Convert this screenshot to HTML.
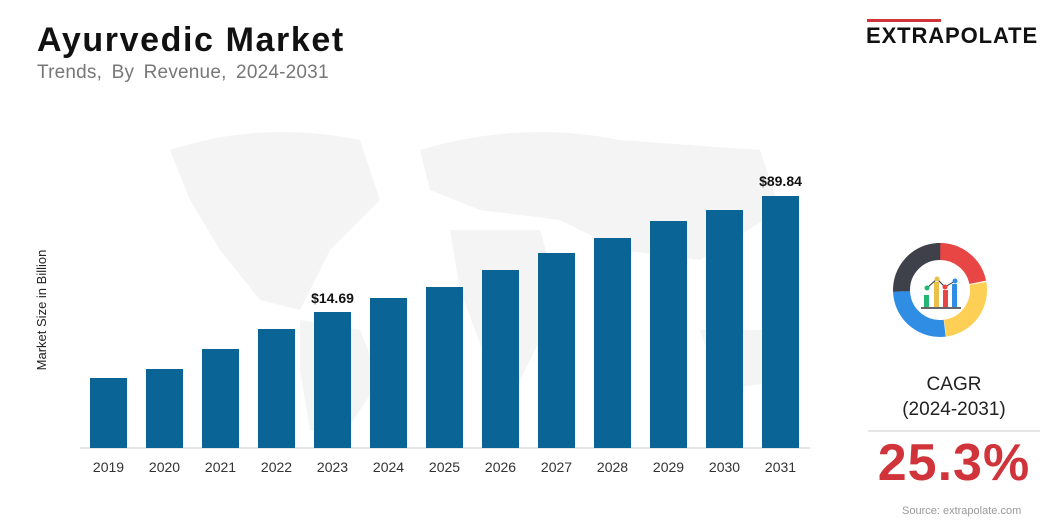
<!DOCTYPE html>
<html><head><meta charset="utf-8"><style>
body{margin:0;width:1056px;height:528px;background:#fff;font-family:"Liberation Sans",sans-serif;position:relative;overflow:hidden}
.t{position:absolute;white-space:nowrap}
</style></head><body>
<div class="t" style="left:37px;top:21px;font-size:34px;font-weight:bold;color:#111;letter-spacing:1.6px">Ayurvedic Market</div>
<div class="t" style="left:37px;top:62px;font-size:19px;color:#777;word-spacing:4px;letter-spacing:0.2px">Trends, By Revenue, 2024-2031</div>
<div style="position:absolute;left:867px;top:19px;width:74px;height:3px;background:#d0343a"></div>
<div class="t" style="left:866px;top:23px;font-size:22px;font-weight:bold;color:#111;letter-spacing:0.9px">EXTRAPOLATE</div>
<svg width="1056" height="528" style="position:absolute;left:0;top:0">
<g fill="#f4f4f4">
<path d="M170 150 Q260 120 360 140 L380 200 L330 250 L300 310 L260 300 L220 250 L190 200Z"/>
<path d="M300 320 L360 330 L380 380 L340 440 L310 430 L300 370Z"/>
<path d="M420 150 Q520 120 620 140 L760 150 L780 210 L700 260 L620 250 L560 220 L480 210 L430 190Z"/>
<path d="M450 230 L540 230 L560 300 L520 380 L490 370 L460 290Z"/>
<path d="M700 330 L780 330 L790 380 L720 390Z"/>
</g>
<line x1="80" y1="448" x2="810" y2="448" stroke="#ccc" stroke-width="1"/>
<g fill="#0a6496">
<rect x="90" y="378" width="37" height="70"/>
<rect x="146" y="369" width="37" height="79"/>
<rect x="202" y="349" width="37" height="99"/>
<rect x="258" y="329" width="37" height="119"/>
<rect x="314" y="312" width="37" height="136"/>
<rect x="370" y="298" width="37" height="150"/>
<rect x="426" y="287" width="37" height="161"/>
<rect x="482" y="270" width="37" height="178"/>
<rect x="538" y="253" width="37" height="195"/>
<rect x="594" y="238" width="37" height="210"/>
<rect x="650" y="221" width="37" height="227"/>
<rect x="706" y="210" width="37" height="238"/>
<rect x="762" y="196" width="37" height="252"/>
</g>
<g font-family="Liberation Sans" font-size="14" fill="#333" text-anchor="middle">
<text x="108.5" y="472">2019</text><text x="164.5" y="472">2020</text><text x="220.5" y="472">2021</text><text x="276.5" y="472">2022</text><text x="332.5" y="472">2023</text><text x="388.5" y="472">2024</text><text x="444.5" y="472">2025</text><text x="500.5" y="472">2026</text><text x="556.5" y="472">2027</text><text x="612.5" y="472">2028</text><text x="668.5" y="472">2029</text><text x="724.5" y="472">2030</text><text x="780.5" y="472">2031</text>
<text x="332.5" y="303" font-weight="bold" fill="#111">$14.69</text>
<text x="780.5" y="186" font-weight="bold" fill="#111">$89.84</text>
</g>
<text transform="translate(46,310) rotate(-90)" font-family="Liberation Sans" font-size="13" fill="#222" text-anchor="middle">Market Size in Billion</text>
<g transform="translate(940,290)" fill="none" stroke-width="17">
<circle r="38.5" stroke="#e84545" stroke-dasharray="56 242" transform="rotate(-95)"/>
<circle r="38.5" stroke="#fdd055" stroke-dasharray="62 242" transform="rotate(-10)"/>
<circle r="38.5" stroke="#2f8de4" stroke-dasharray="64 242" transform="rotate(83)"/>
<circle r="38.5" stroke="#3e404a" stroke-dasharray="62 242" transform="rotate(178)"/>
</g>
<g transform="translate(940,290)">
<rect x="-16" y="5" width="5" height="12" fill="#22b573"/>
<rect x="-6" y="-8" width="5" height="25" fill="#e8c04a"/>
<rect x="3" y="0" width="5" height="17" fill="#e84545"/>
<rect x="12" y="-6" width="5" height="23" fill="#2f8de4"/>
<line x1="-19" y1="18" x2="21" y2="18" stroke="#333" stroke-width="1.5"/>
<polyline points="-13,-2 -3,-11 5,-3 15,-9" stroke="#333" fill="none" stroke-width="1"/>
<circle cx="-13" cy="-2" r="2.5" fill="#22b573"/><circle cx="-3" cy="-11" r="2.5" fill="#e8c04a"/><circle cx="5" cy="-3" r="2.5" fill="#e84545"/><circle cx="15" cy="-9" r="2.5" fill="#2f8de4"/>
</g>
<line x1="868" y1="431" x2="1040" y2="431" stroke="#ccc"/>
</svg>
<div class="t" style="left:868px;top:372px;width:172px;text-align:center;font-size:19px;color:#222;line-height:25px">CAGR<br>(2024-2031)</div>
<div class="t" style="left:862px;top:433px;width:184px;text-align:center;font-size:52px;font-weight:bold;color:#d0343a;letter-spacing:1px">25.3%</div>
<div class="t" style="left:902px;top:505px;font-size:11px;color:#999">Source: extrapolate.com</div>
</body></html>
